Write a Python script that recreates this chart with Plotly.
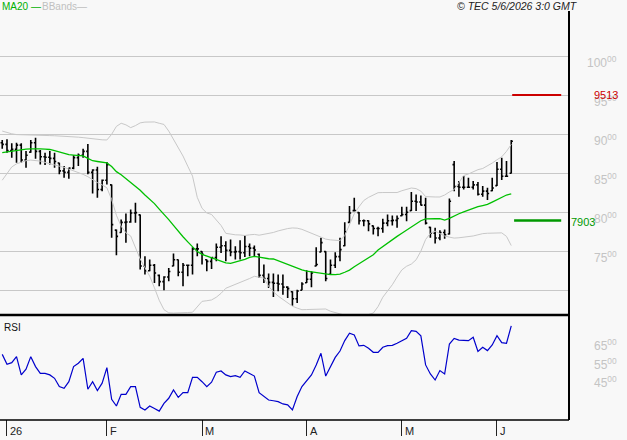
import plotly.graph_objects as go

# ---------------- data ----------------
high = [8936, 8944, 8893, 8901, 8893, 8794, 8936, 8966, 8807, 8773,
        8794, 8773, 8645, 8602, 8580, 8739, 8764, 8824, 8884, 8559,
        8593, 8430, 8653, 8366, 7788, 7916, 7994, 8045, 8131, 7981,
        7445, 7402, 7347, 7210, 7188, 7295, 7480, 7402, 7360, 7338,
        7561, 7608, 7510, 7402, 7437, 7608, 7702, 7638, 7659, 7574,
        7651, 7711, 7608, 7582, 7480, 7338, 7223, 7223, 7210, 7210,
        7060, 6996, 7017, 7111, 7265, 7253, 7561, 7681, 7510, 7402,
        7497, 7681, 7882, 8088, 8195, 8011, 7916, 7908, 7839, 7822,
        7925, 7981, 7968, 7968, 8079, 8079, 8268, 8238, 8225, 8195,
        7822, 7809, 7779, 7788, 8186, 8666, 8409, 8473, 8452, 8409,
        8396, 8345, 8323, 8452, 8653, 8709, 8666, 8936]
low = [8824, 8773, 8709, 8645, 8645, 8580, 8773, 8696, 8623, 8615,
       8623, 8580, 8495, 8452, 8439, 8559, 8602, 8709, 8495, 8250,
       8195, 8280, 8366, 7681, 7458, 7745, 7617, 7874, 7874, 7274,
       7210, 7253, 7103, 7060, 7008, 7124, 7317, 7188, 7060, 7188,
       7210, 7445, 7338, 7253, 7283, 7381, 7488, 7381, 7445, 7402,
       7402, 7437, 7445, 7445, 7167, 7103, 7038, 6923, 6996, 6953,
       6910, 6811, 6846, 7008, 7103, 7047, 7317, 7497, 7124, 7210,
       7295, 7381, 7574, 7874, 8024, 7852, 7831, 7767, 7724, 7702,
       7745, 7831, 7839, 7809, 7959, 7895, 8024, 8024, 8096, 7852,
       7681, 7608, 7651, 7668, 7724, 8280, 8208, 8302, 8323, 8302,
       8225, 8208, 8165, 8280, 8345, 8422, 8473, 8507]
open_ = [8900, 8880, 8800, 8815, 8870, 8680, 8780, 8900, 8790, 8720,
         8715, 8700, 8640, 8540, 8520, 8575, 8710, 8740, 8790, 8520,
         8550, 8300, 8420, 8360, 7780, 7750, 7880, 7885, 8000, 7975,
         7320, 7260, 7330, 7200, 7120, 7180, 7320, 7400, 7240, 7330,
         7330, 7540, 7505, 7400, 7380, 7430, 7560, 7580, 7520, 7500,
         7505, 7490, 7570, 7550, 7470, 7200, 7160, 7110, 7100, 7090,
         7050, 6990, 6900, 7010, 7105, 7150, 7320, 7500, 7505, 7215,
         7330, 7440, 7580, 7880, 8030, 8005, 7900, 7900, 7835, 7800,
         7800, 7870, 7900, 7905, 7965, 7980, 8030, 8150, 8140, 8100,
         7815, 7740, 7680, 7750, 7730, 8620, 8340, 8330, 8330, 8330,
         8360, 8240, 8280, 8285, 8350, 8560, 8470, 8510]
close = [8880, 8800, 8815, 8870, 8680, 8740, 8900, 8790, 8720, 8715,
         8700, 8660, 8540, 8520, 8575, 8710, 8740, 8790, 8520, 8550,
         8300, 8420, 8620, 7850, 7700, 7880, 7885, 8000, 8005, 7320,
         7260, 7330, 7230, 7120, 7180, 7250, 7400, 7240, 7330, 7330,
         7540, 7540, 7470, 7380, 7430, 7560, 7580, 7520, 7500, 7505,
         7490, 7570, 7550, 7525, 7200, 7160, 7110, 7100, 7090, 7050,
         7030, 6900, 7000, 7090, 7150, 7230, 7340, 7620, 7160, 7330,
         7440, 7530, 7760, 8000, 8030, 7900, 7900, 7860, 7800, 7800,
         7870, 7900, 7905, 7930, 7980, 8010, 8150, 8140, 8100, 7870,
         7740, 7680, 7750, 7720, 8150, 8340, 8330, 8330, 8330, 8360,
         8240, 8280, 8250, 8320, 8560, 8470, 8470, 8920]
ma20 = [8775, 8785, 8795, 8805, 8812, 8818, 8822, 8825, 8822, 8818,
        8814, 8800, 8780, 8758, 8748, 8742, 8738, 8732, 8700, 8670,
        8660, 8650, 8642, 8595, 8530, 8490, 8440, 8400, 8350, 8290,
        8230, 8180, 8120, 8050, 7985, 7915, 7840, 7760, 7695, 7630,
        7570, 7505, 7470, 7450, 7430, 7405, 7385, 7360, 7355, 7370,
        7385, 7405, 7430, 7443, 7435, 7420, 7413, 7410, 7385, 7360,
        7335, 7310, 7290, 7270, 7255, 7245, 7235, 7225, 7215, 7211,
        7210, 7215, 7240, 7267, 7310, 7350, 7380, 7425, 7465, 7525,
        7570, 7615, 7665, 7700, 7740, 7782, 7820, 7855, 7900, 7925,
        7930, 7928, 7926, 7908, 7930, 7965, 7990, 8015, 8040, 8060,
        8080, 8095, 8110, 8140, 8170, 8200, 8230, 8245]
bb_up = [9050, 9030, 9015, 9005, 9002, 9000, 9000, 8998, 8996, 8994,
         8992, 8990, 8988, 8986, 8982, 8978, 8972, 8966, 8958, 8950,
         8944, 8938, 8936, 9009, 9110, 9150, 9130, 9094, 9120, 9155,
         9165, 9167, 9167, 9150, 9135, 9050, 8944, 8840, 8730, 8600,
         8473, 8200, 8060, 8000, 7981, 7910, 7840, 7739, 7728, 7720,
         7718, 7711, 7720, 7725, 7715, 7725, 7740, 7750, 7770, 7790,
         7800, 7808, 7805, 7790, 7765, 7740, 7710, 7685, 7665, 7655,
         7650, 7645, 7710, 7850, 7990, 8080, 8160, 8200, 8235, 8260,
         8262, 8265, 8265, 8262, 8285, 8300, 8320, 8312, 8280, 8210,
         8205, 8205, 8205, 8230, 8270, 8300, 8390, 8480, 8500, 8530,
         8555, 8570, 8600, 8640, 8682, 8720, 8790, 8880]
bb_lo = [8420, 8510, 8590, 8630, 8655, 8670, 8678, 8676, 8665, 8648,
         8635, 8620, 8600, 8585, 8565, 8545, 8520, 8495, 8465, 8425,
         8390, 8360, 8323, 8173, 7970, 7830, 7745, 7705, 7560, 7410,
         7300, 7190, 7040, 6880, 6760, 6720, 6717, 6717, 6720, 6724,
         6727, 6800, 6867, 6875, 6885, 6920, 6970, 7035, 7060, 7080,
         7100, 7130, 7160, 7188, 7175, 7165, 7060, 6990, 6935, 6890,
         6850, 6805, 6780, 6760, 6762, 6765, 6768, 6768, 6769, 6740,
         6720, 6710, 6690, 6680, 6675, 6674, 6680, 6700, 6717, 6800,
         6920, 7000, 7080, 7180, 7270, 7317, 7345, 7400, 7510, 7660,
         7740, 7767, 7740, 7705, 7690, 7678, 7682, 7688, 7694, 7705,
         7720, 7735, 7740, 7743, 7745, 7745, 7700, 7582]
rsi = [57.2, 51.9, 52.8, 56.0, 46.3, 49.3, 56.0, 50.7, 47.1, 47.1,
       46.3, 44.5, 40.1, 39.2, 42.7, 50.7, 52.5, 55.1, 38.7, 42.7,
       38.0, 41.9, 50.2, 33.4, 29.8, 36.0, 36.0, 40.1, 40.1, 29.1,
       27.7, 29.8, 28.5, 27.1, 31.2, 33.9, 38.3, 34.4, 36.9, 36.9,
       45.0, 45.0, 42.7, 40.1, 42.4, 47.7, 48.4, 46.3, 45.4, 45.9,
       45.0, 48.4, 47.1, 45.7, 36.9, 35.1, 33.0, 32.6, 32.1, 30.9,
       30.4, 27.7, 34.8, 40.1, 43.3, 46.3, 51.6, 57.8, 45.7, 50.7,
       55.6, 59.0, 64.5, 68.4, 67.5, 61.7, 62.0, 60.4, 58.3, 58.3,
       61.0, 61.8, 62.0, 63.1, 64.5, 65.7, 69.8, 69.4, 67.0, 51.6,
       46.8, 43.6, 48.6, 46.8, 62.7, 65.7, 64.8, 64.5, 64.5, 66.3,
       58.7, 61.0, 59.2, 62.2, 67.1, 63.4, 63.1, 72.3]

month_idx = [1, 22, 42, 64, 84, 104]
month_lbl = ["26", "F", "M", "A", "M", "J"]
price_ticks = [10000, 9500, 9000, 8500, 8000, 7500]
rsi_ticks = [65, 55, 45]
target_level = 9513
support_level = 7903

# ---------------- layout helpers ----------------
W, H = 627, 440
def px(x):
    return x / W
def py(y):
    return 1 - y / H

FONT = "Liberation Sans"
BG = "#f8f8f8"
x = list(range(len(close)))

fig = go.Figure()
fig.add_trace(go.Scatter(x=x, y=bb_up, mode="lines", line=dict(color="#c8c8c8", width=1),
                         xaxis="x", yaxis="y", hoverinfo="skip"))
fig.add_trace(go.Scatter(x=x, y=bb_lo, mode="lines", line=dict(color="#c8c8c8", width=1),
                         xaxis="x", yaxis="y", hoverinfo="skip"))
fig.add_trace(go.Scatter(x=x, y=ma20, mode="lines", line=dict(color="#00c000", width=1.3),
                         xaxis="x", yaxis="y"))
fig.add_trace(go.Ohlc(x=x, open=open_, high=high, low=low, close=close,
                      increasing=dict(line=dict(color="black", width=1.6)),
                      decreasing=dict(line=dict(color="black", width=1.6)),
                      tickwidth=0.35, xaxis="x", yaxis="y"))
fig.add_trace(go.Scatter(x=x, y=rsi, mode="lines", line=dict(color="#0000cc", width=1.2),
                         xaxis="x", yaxis="y2"))

plot_right = 569
fig.update_layout(
    width=W, height=H, margin=dict(l=0, r=0, t=0, b=0),
    paper_bgcolor=BG, plot_bgcolor=BG, showlegend=False,
    xaxis=dict(domain=[0, px(plot_right)], range=[-0.47, 119.14], anchor="y2",
               showgrid=False, zeroline=False, showline=False,
               ticks="outside", ticklen=16, tickwidth=1, tickcolor="#222",
               tickvals=month_idx, showticklabels=False,
               rangeslider=dict(visible=False)),
    yaxis=dict(domain=[py(315), py(20)], range=[6692, 10474], dtick=500, tick0=0,
               showgrid=True, gridcolor="#c8c8c8", gridwidth=1,
               showticklabels=False, zeroline=False, anchor="x"),
    yaxis2=dict(domain=[py(419), py(315)], range=[22.9, 78.1],
                showgrid=False, showticklabels=False, zeroline=False, anchor="x"),
)

shapes = [
    dict(type="line", xref="paper", yref="paper", x0=0, x1=px(plot_right),
         y0=py(315), y1=py(315), line=dict(color="black", width=2.5)),
    dict(type="line", xref="paper", yref="paper", x0=0, x1=px(plot_right),
         y0=py(420), y1=py(420), line=dict(color="black", width=1.5)),
    dict(type="line", xref="paper", yref="paper", x0=px(plot_right), x1=px(plot_right),
         y0=py(11), y1=py(420), line=dict(color="black", width=2)),
    dict(type="line", xref="x", yref="y", x0=107.2, x1=117.5,
         y0=target_level, y1=target_level, line=dict(color="#cc0000", width=2)),
    dict(type="line", xref="x", yref="y", x0=107.6, x1=117.5,
         y0=support_level, y1=support_level, line=dict(color="#009900", width=2.5)),
]
fig.update_layout(shapes=shapes)

ann = []
for v in price_ticks:
    ann.append(dict(x=px(619), xref="paper", xanchor="right", y=v, yref="y", yshift=-5,
                    text=f"{v // 100}<sup>00</sup>", showarrow=False,
                    font=dict(family=FONT, size=12, color="#c4c4c4")))
for v in rsi_ticks:
    ann.append(dict(x=px(619), xref="paper", xanchor="right", y=v, yref="y2", yshift=-5,
                    text=f"{v}<sup>00</sup>", showarrow=False,
                    font=dict(family=FONT, size=12, color="#c4c4c4")))
ann.append(dict(x=px(592), xref="paper", xanchor="left", y=target_level, yref="y",
                text=str(target_level), showarrow=False,
                font=dict(family=FONT, size=11, color="#cc0000")))
ann.append(dict(x=px(569), xref="paper", xanchor="left", y=support_level, yref="y", yshift=-1,
                text=str(support_level), showarrow=False,
                font=dict(family=FONT, size=11, color="#009900")))
for i, t in zip(month_idx, month_lbl):
    ann.append(dict(x=i, xref="x", xanchor="left", xshift=1, y=py(431), yref="paper",
                    yanchor="middle", text=t, showarrow=False,
                    font=dict(family=FONT, size=11, color="#222")))
ann.append(dict(x=0, xref="paper", xanchor="left", y=py(6), yref="paper", yanchor="middle",
                text="MA20 —", showarrow=False,
                font=dict(family=FONT, size=10, color="#00b000")))
ann.append(dict(x=px(40), xref="paper", xanchor="left", y=py(6), yref="paper", yanchor="middle",
                text="BBands—", showarrow=False,
                font=dict(family=FONT, size=10, color="#c0c0c0")))
ann.append(dict(x=px(455), xref="paper", xanchor="left", y=py(6), yref="paper", yanchor="middle",
                text="<i>© TEC 5/6/2026 3:0 GMT</i>", showarrow=False,
                font=dict(family=FONT, size=10.5, color="#222")))
ann.append(dict(x=px(2), xref="paper", xanchor="left", y=py(327), yref="paper", yanchor="middle",
                text="RSI", showarrow=False,
                font=dict(family=FONT, size=10, color="#111")))
fig.update_layout(annotations=ann)

fig.write_html("out.html")
